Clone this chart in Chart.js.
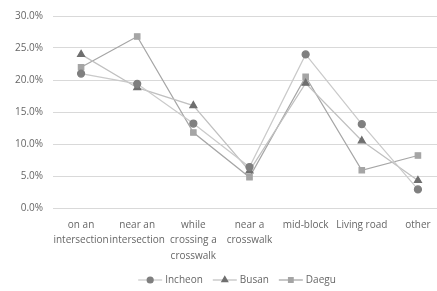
<!DOCTYPE html>
<html>
<head>
<meta charset="utf-8">
<script src="https://cdn.jsdelivr.net/npm/chart.js@4/dist/chart.umd.min.js"></script>
<style>
    html, body { margin: 0; padding: 0; background: #fff; overflow: hidden; }
    #wrap { width: 474px; height: 291px; }
</style>
</head>
<body>
<div id="wrap"><canvas id="chart" width="474" height="291"></canvas></div>
<script>
// Pedestrian accident location share by city (%)
const categories = [
    ['on an', 'intersection'],
    ['near an', 'intersection'],
    ['while', 'crossing a', 'crosswalk'],
    ['near a', 'crosswalk'],
    'mid-block',
    'Living road',
    'other'
];
const incheon = [21.0, 19.4, 13.2, 6.4, 24.0, 13.1, 2.9];
const busan = [24.0, 18.8, 16.0, 5.8, 19.5, 10.5, 4.3];
const daegu = [22.0, 26.8, 11.8, 4.8, 20.5, 5.9, 8.2];
const yTicks = [0, 5, 10, 15, 20, 25, 30];

const textColor = '#666666';
const fontFamily = '"Open Sans", sans-serif';

function makeSeries(label, data, lineColor, markColor, style, radius) {
    return {
        label: label,
        data: data,
        borderColor: lineColor,
        borderWidth: 1.25,
        backgroundColor: markColor,
        pointBackgroundColor: markColor,
        pointBorderColor: markColor,
        pointStyle: style,
        pointRadius: radius,
        tension: 0,
        fill: false
    };
}

// legend drawn by hand: short line with the marker in the middle, like Excel
const lineLegend = {
    id: 'lineLegend',
    afterDraw(chart) {
        const ctx = chart.ctx;
        const y = 280;
        const lineLen = 24, textGap = 3, itemGap = 10;
        ctx.save();
        ctx.font = '10px ' + fontFamily;
        ctx.textBaseline = 'middle';
        const items = chart.data.datasets.map(ds => ({ ds: ds, w: ctx.measureText(ds.label).width }));
        const total = items.reduce((s, it) => s + lineLen + textGap + it.w, 0) + itemGap * (items.length - 1);
        let x = 237 - total / 2;
        items.forEach(it => {
            const ds = it.ds;
            ctx.strokeStyle = ds.borderColor;
            ctx.lineWidth = 1.25;
            ctx.beginPath();
            ctx.moveTo(x, y);
            ctx.lineTo(x + lineLen, y);
            ctx.stroke();
            ctx.fillStyle = ds.pointBackgroundColor;
            ctx.strokeStyle = ds.pointBorderColor;
            Chart.helpers.drawPoint(ctx, {
                pointStyle: ds.pointStyle,
                radius: ds.pointRadius * 0.85,
                borderWidth: 1
            }, x + lineLen / 2, y);
            ctx.fillStyle = textColor;
            ctx.fillText(ds.label, x + lineLen + textGap, y);
            x += lineLen + textGap + it.w + itemGap;
        });
        ctx.restore();
    }
};

new Chart(document.getElementById('chart'), {
    type: 'line',
    data: {
        labels: categories,
        datasets: [
            makeSeries('Incheon', incheon, '#cacaca', '#7f7f7f', 'circle', 3.5),
            makeSeries('Busan', busan, '#c0c0c0', '#6f6f6f', 'triangle', 4),
            makeSeries('Daegu', daegu, '#a6a6a6', '#a5a5a5', 'rect', 3.8)
        ]
    },
    options: {
        responsive: false,
        animation: false,
        layout: { padding: { top: 15, right: 28, left: 0, bottom: 0 } },
        plugins: {
            legend: { display: false },
            tooltip: { enabled: false }
        },
        scales: {
            x: {
                offset: true,
                grid: { display: false, drawTicks: false },
                border: { color: '#d9d9d9' },
                ticks: {
                    color: textColor,
                    font: { family: fontFamily, size: 10, lineHeight: 1.55 },
                    padding: 9,
                    autoSkip: false,
                    maxRotation: 0,
                    minRotation: 0
                },
                afterFit(scale) { scale.height = 83; }
            },
            y: {
                min: 0,
                max: 30,
                afterBuildTicks(scale) {
                    scale.ticks = yTicks.map(v => ({ value: v }));
                },
                grid: { color: '#d9d9d9', drawTicks: false },
                border: { display: false },
                ticks: {
                    color: textColor,
                    font: { family: fontFamily, size: 10 },
                    padding: 10,
                    callback: v => v.toFixed(1) + '%'
                },
                afterFit(scale) { scale.width = 53; }
            }
        }
    },
    plugins: [lineLegend]
});
</script>
</body>
</html>
